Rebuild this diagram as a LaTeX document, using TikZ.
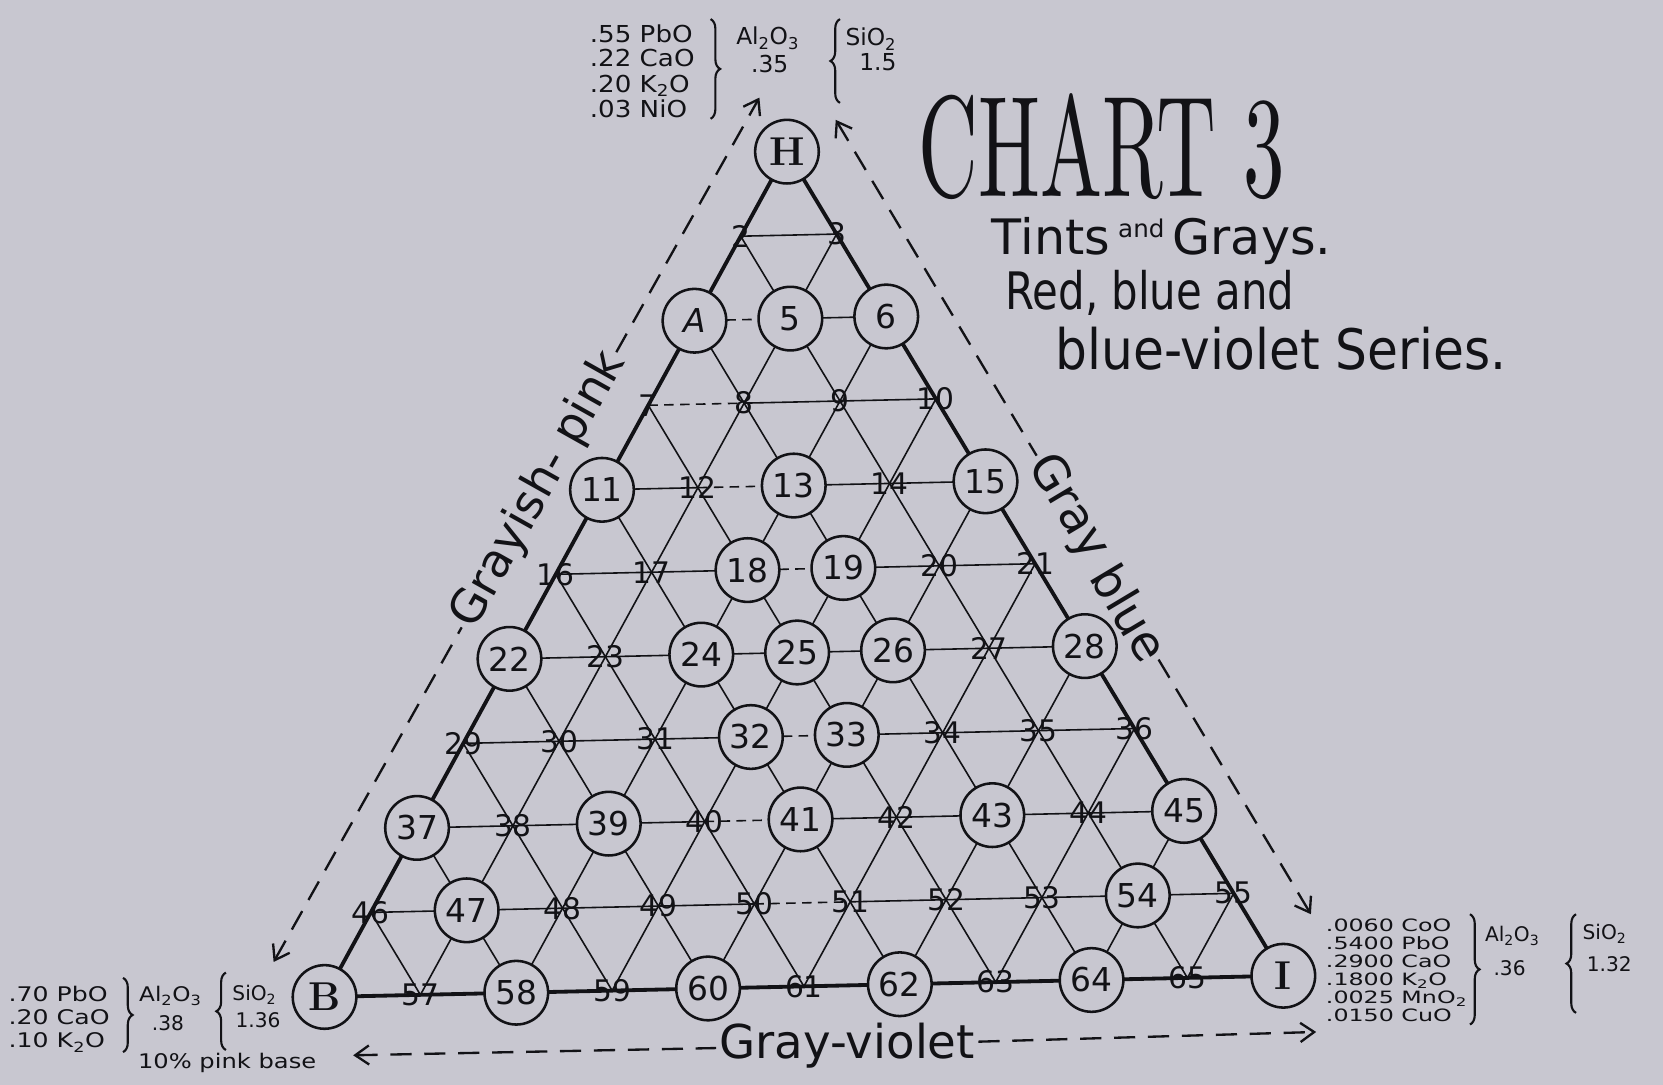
\documentclass[tikz,border=0pt]{standalone}
\usepackage{fontspec}
\newfontfamily\hand{DejaVu Sans}
\usetikzlibrary{arrows.meta,decorations.pathreplacing}
\definecolor{bgc}{RGB}{200,199,208}
\definecolor{inkc}{RGB}{18,18,22}
\makeatletter
\newcommand\IfInSet[2]{\edef\my@tmp{\noexpand\in@{,#1,}{,#2,}}\my@tmp
  \ifin@\expandafter\@firstoftwo\else\expandafter\@secondoftwo\fi}
\makeatother
\newcommand\circset{1,4,5,6,11,13,15,18,19,22,24,25,26,28,32,33,37,39,41,43,45,47,54,56,58,60,62,64,66}
\newcommand\dashset{2-0,3-0,4-1,5-2,7-3,8-3,9-4}
\newcommand\ptlabel[1]{%
  \ifnum#1=1 {\rmfamily\bfseries\fontsize{38}{38}\selectfont H}\else
  \ifnum#1=4 {\itshape A}\else
  \ifnum#1=56 {\rmfamily\bfseries\fontsize{38}{38}\selectfont B}\else
  \ifnum#1=66 {\rmfamily\bfseries\fontsize{38}{38}\selectfont I}\else #1\fi\fi\fi\fi}
\newcommand\hs[2]{\scalebox{#1}[1]{#2}}
\newcommand\ftop{\hand\fontsize{22}{22}\selectfont}
\newcommand\fbl{\hand\fontsize{19}{19}\selectfont}
\newcommand\fbr{\hand\fontsize{16}{16}\selectfont}
\begin{document}
\begin{tikzpicture}[x=1pt,y=-1pt,
  gridline/.style={draw=inkc, line width=1.5pt},
  dashseg/.style={dash pattern=on 9pt off 6pt},
  frame/.style={draw=inkc, line width=3.6pt, line join=round},
  ptcirc/.style={circle, draw=inkc, line width=2.4pt, fill=bgc, minimum size=60pt, inner sep=0pt, text=inkc, font=\hand\fontsize{31}{31}\selectfont},
  ptnum/.style={inner sep=0pt, text=inkc, font=\hand\fontsize{28}{28}\selectfont},
  guideline/.style={draw=inkc, line width=2.2pt, dash pattern=on 20pt off 12pt},
  tipstart/.style={{Straight Barb[length=13pt,width=18pt,line width=2.2pt]}-},
  tipend/.style={-{Straight Barb[length=13pt,width=18pt,line width=2.2pt]}},
  guidetext/.style={inner sep=3pt, text=inkc},
  ftext/.style={anchor=base west, inner sep=0pt, text=inkc},
  brace/.style={draw=inkc, line width=2pt, decorate, decoration={brace, amplitude=9pt}},
]
\fill[bgc] (0,0) rectangle (1568,1023);
\useasboundingbox (0,0) rectangle (1568,1023);

% lattice points
\foreach \r in {0,...,10}{
  \foreach \i in {0,...,\r}{
    \pgfmathsetmacro\px{742-43.6*(\r-\i)+46.8*\i}
    \pgfmathsetmacro\py{143+79.7*(\r-\i)+77.7*\i}
    \coordinate (c-\r-\i) at (\px,\py);
  }
}
% horizontal lines
\foreach \r in {1,...,9}{
  \pgfmathtruncatemacro\rr{\r-1}
  \foreach \i in {0,...,\rr}{
    \pgfmathtruncatemacro\j{\i+1}
    \IfInSet{\r-\i}{\dashset}
      {\draw[gridline,dashseg] (c-\r-\i) -- (c-\r-\j);}
      {\draw[gridline] (c-\r-\i) -- (c-\r-\j);}
  }
}
% diagonals
\foreach \i in {1,...,9}{\draw[gridline] (c-\i-\i) -- (c-10-\i);}
\foreach \j in {1,...,9}{\pgfmathtruncatemacro\k{10-\j}\draw[gridline] (c-\j-0) -- (c-10-\k);}
% frame
\draw[frame] (c-0-0) -- (c-10-0) -- (c-10-10) -- cycle;
% points
\foreach \r in {0,...,10}{
  \foreach \i in {0,...,\r}{
    \pgfmathtruncatemacro\n{\r*(\r+1)/2+\i+1}
    \IfInSet{\n}{\circset}
      {\node[ptcirc] (n-\n) at (c-\r-\i) {\ptlabel{\n}};}
      {\node[ptnum] (n-\n) at (c-\r-\i) {\n};}
  }
}

% guide arrows: left side
\coordinate (gl-b) at (258,907);
\coordinate (gl-t) at (716,92);
\path (gl-b)
  -- node[guidetext, sloped, pos=0.489, font=\hand\fontsize{44}{44}\selectfont] (lab-gp1) {Grayish-}
     node[guidetext, sloped, pos=0.652, font=\hand\fontsize{44}{44}\selectfont] (lab-gp2) {pink}
  (gl-t);
\draw[guideline, tipstart] (gl-b) -- (lab-gp1);
\draw[guideline, tipend] (lab-gp2) -- (gl-t);
% right side
\coordinate (gr-t) at (788,113);
\coordinate (gr-b) at (1236,862);
\path (gr-t)
  -- node[guidetext, sloped, pos=0.488, font=\hand\fontsize{45}{45}\selectfont] (lab-gb1) {Gray}
     node[guidetext, sloped, pos=0.620, font=\hand\fontsize{45}{45}\selectfont] (lab-gb2) {blue}
  (gr-b);
\draw[guideline, tipstart] (gr-t) -- (lab-gb1);
\draw[guideline, tipend] (lab-gb2) -- (gr-b);
% bottom
\coordinate (gb-l) at (333,995);
\coordinate (gb-r) at (1241,973);
\path (gb-l) -- node[guidetext, pos=0.513, yshift=-2pt, font=\hand\fontsize{44}{44}\selectfont] (lab-gv) {Gray-violet} (gb-r);
\draw[guideline, tipstart] (gb-l) -- (lab-gv);
\draw[guideline, tipend] (lab-gv) -- (gb-r);

% title
\node[anchor=base west, inner sep=0pt, text=inkc] (title) at (866,185) {\resizebox{345pt}{97pt}{CHART 3}};
\node[anchor=base west, inner sep=0pt, text=inkc] (sub1) at (935,240) {\resizebox{320pt}{35pt}{\hand Tints\,\smash{\raisebox{0.35em}{\fontsize{5}{5}\selectfont and}}\,Grays.}};
\node[anchor=base west, inner sep=0pt, text=inkc] (sub2) at (948,292) {\resizebox{272pt}{37pt}{\hand Red, blue and}};
\node[anchor=base west, inner sep=0pt, text=inkc] (sub3) at (995,348) {\resizebox{425pt}{40pt}{\hand blue-violet Series.}};

% top formula
\node[ftext, font=\ftop] (ft-1) at (556,40) {\hs{1.12}{.55 PbO}};
\node[ftext, font=\ftop] (ft-2) at (556,63) {\hs{1.12}{.22 CaO}};
\node[ftext, font=\ftop] (ft-3) at (556,87) {\hs{1.12}{.20 K\textsubscript{2}O}};
\node[ftext, font=\ftop] (ft-4) at (556,111) {\hs{1.12}{.03 NiO}};
\coordinate (bt-1a) at (670,18); \coordinate (bt-1b) at (670,112);
\draw[brace] (bt-1a) -- (bt-1b);
\node[ftext, font=\ftop] (ft-al) at (694,42) {Al\textsubscript{2}O\textsubscript{3}};
\node[ftext, font=\ftop] (ft-aln) at (708,68) {.35};
\coordinate (bt-2a) at (792,97); \coordinate (bt-2b) at (792,18);
\draw[brace] (bt-2a) -- (bt-2b);
\node[ftext, font=\ftop] (ft-si) at (797,43) {SiO\textsubscript{2}};
\node[ftext, font=\ftop] (ft-sin) at (810,66) {1.5};

% bottom-left formula
\node[ftext, font=\fbl] (fb-1) at (8,944) {\hs{1.25}{.70 PbO}};
\node[ftext, font=\fbl] (fb-2) at (8,966) {\hs{1.25}{.20 CaO}};
\node[ftext, font=\fbl] (fb-3) at (8,988) {\hs{1.25}{.10 K\textsubscript{2}O}};
\coordinate (bb-1a) at (116,922); \coordinate (bb-1b) at (116,992);
\draw[brace] (bb-1a) -- (bb-1b);
\node[ftext, font=\fbl] (fb-al) at (131,944) {\hs{1.15}{Al\textsubscript{2}O\textsubscript{3}}};
\node[ftext, font=\fbl] (fb-aln) at (143,972) {.38};
\coordinate (bb-2a) at (213,990); \coordinate (bb-2b) at (213,917);
\draw[brace] (bb-2a) -- (bb-2b);
\node[ftext, font=\fbl] (fb-si) at (219,943) {SiO\textsubscript{2}};
\node[ftext, font=\fbl] (fb-sin) at (222,969) {1.36};
\node[ftext, font=\fbl] (fb-pink) at (130,1007) {\hs{1.2}{10\% pink base}};

% bottom-right formula
\node[ftext, font=\fbr] (fr-1) at (1250,878) {\hs{1.4}{.0060 CoO}};
\node[ftext, font=\fbr] (fr-2) at (1250,895) {\hs{1.4}{.5400 PbO}};
\node[ftext, font=\fbr] (fr-3) at (1250,912) {\hs{1.4}{.2900 CaO}};
\node[ftext, font=\fbr] (fr-4) at (1250,929) {\hs{1.4}{.1800 K\textsubscript{2}O}};
\node[ftext, font=\fbr] (fr-5) at (1250,946) {\hs{1.4}{.0025 MnO\textsubscript{2}}};
\node[ftext, font=\fbr] (fr-6) at (1250,963) {\hs{1.4}{.0150 CuO}};
\coordinate (br-1a) at (1386,862); \coordinate (br-1b) at (1386,966);
\draw[brace] (br-1a) -- (br-1b);
\node[ftext, font=\fbl] (fr-al) at (1400,888) {Al\textsubscript{2}O\textsubscript{3}};
\node[ftext, font=\fbl] (fr-aln) at (1408,920) {.36};
\coordinate (br-2a) at (1486,955); \coordinate (br-2b) at (1486,862);
\draw[brace] (br-2a) -- (br-2b);
\node[ftext, font=\fbl] (fr-si) at (1492,886) {SiO\textsubscript{2}};
\node[ftext, font=\fbl] (fr-sin) at (1496,916) {1.32};
\end{tikzpicture}
\end{document}
